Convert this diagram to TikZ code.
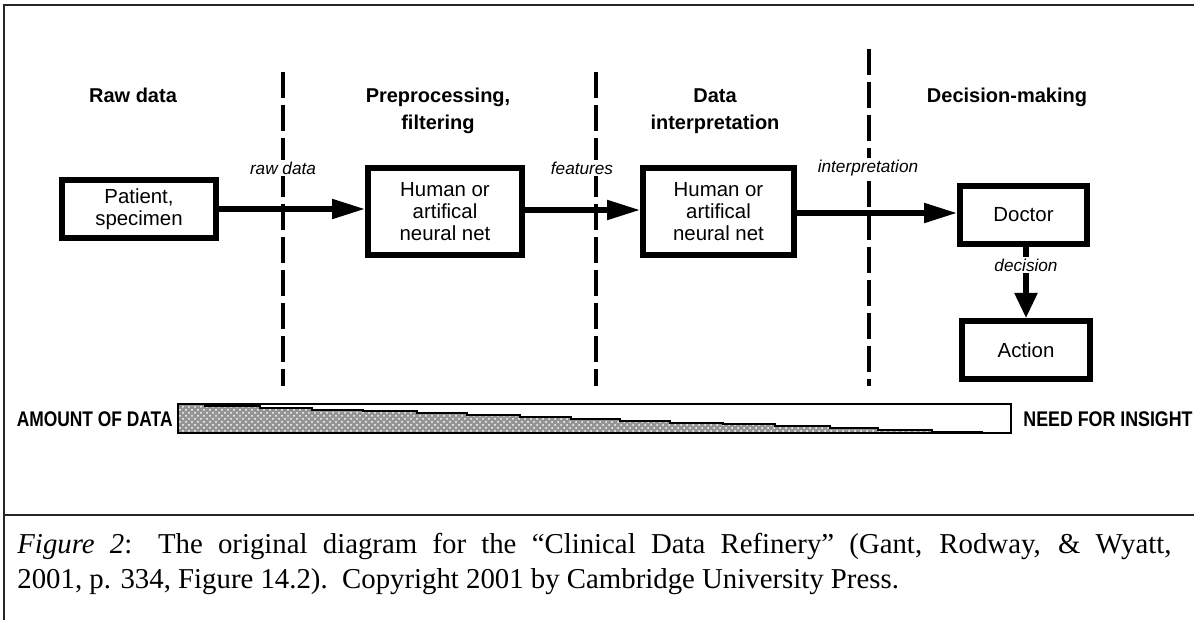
\documentclass[tikz,border=0pt]{standalone}
\usepackage{fontspec}
\setmainfont{Liberation Serif}
\newfontfamily\hv{Liberation Sans}
\usetikzlibrary{arrows.meta,patterns}

\tikzset{
  stagebox/.style={draw, line width=3pt, rectangle, inner sep=0pt, align=center,
                   font=\hv\fontsize{10.2pt}{11pt}\selectfont},
  stagehead/.style={font=\hv\bfseries\fontsize{10pt}{13.5pt}\selectfont, align=center, inner sep=0pt},
  flowlabel/.style={font=\hv\itshape\fontsize{8.6pt}{10pt}\selectfont, fill=white, inner sep=1pt},
  divider/.style={line width=1.8pt, dash pattern=on 13pt off 3.5pt},
  flow/.style={line width=2.6pt, -{Triangle[length=16.5pt,width=9.5pt]}},
  downflow/.style={line width=2.6pt, -{Triangle[length=12.5pt,width=11pt]}},
  barlabel/.style={font=\hv\bfseries\fontsize{10.6pt}{12pt}\selectfont, inner sep=0pt},
  caption/.style={font=\fontsize{14.4pt}{17pt}\selectfont, inner sep=0pt, anchor=base west},
  frame/.style={line width=1pt, black!85}
}

\begin{document}
\begin{tikzpicture}[x=0.5pt,y=-0.5pt]
\useasboundingbox (0,0) rectangle (1194,620);

% outer frame and caption separator
\draw[frame] (4,620) -- (4,5) -- (1194,5);
\draw[frame] (4,515) -- (1194,515);

% stage headings (base anchor = baseline of the last line)
\node[stagehead, anchor=base] (hraw) at (133,103) {Raw data};
\node[stagehead, anchor=base] (hpre) at (438,130) {Preprocessing,\\filtering};
\node[stagehead, anchor=base] (hint) at (715,130) {Data\\interpretation};
\node[stagehead, anchor=base] (hdec) at (1007,103) {Decision-making};

% stage dividers
\coordinate (d1t) at (283,72);  \coordinate (d1b) at (283,386);
\coordinate (d2t) at (596,72);  \coordinate (d2b) at (596,386);
\coordinate (d3t) at (869,49);  \coordinate (d3b) at (869,386);
\draw[divider] (d1t) -- (d1b);
\draw[divider] (d2t) -- (d2b);
\draw[divider] (d3t) -- (d3b);

% processing boxes
\node[stagebox, minimum width=77pt, minimum height=29pt] (patient) at (139,209) {Patient,\\specimen};
\node[stagebox, minimum width=77pt, minimum height=43.5pt] (prep) at (445,211.5) {Human or\\artifical\\neural net};
\node[stagebox, minimum width=75.5pt, minimum height=43.5pt] (interp) at (718.5,211.5) {Human or\\artifical\\neural net};
\node[stagebox, minimum width=63.5pt, minimum height=29pt] (doctor) at (1023.5,215) {Doctor};
\node[stagebox, minimum width=64pt, minimum height=29pt] (action) at (1026,350) {Action};

% flow arrows
\draw[flow] (patient.east) -- (patient.east -| prep.west);
\draw[flow] (prep.east |- 0,210) -- (interp.west |- 0,210);
\draw[flow] (interp.east |- 0,213) -- (doctor.west |- 0,213);
\draw[downflow] (doctor.south -| 1026,0) -- (action.north);

% flow labels
\node[flowlabel] (lraw) at (283,168) {raw data};
\node[flowlabel] (lfeat) at (582,168) {features};
\node[flowlabel] (lint) at (868,168) {interpretation};
\node[flowlabel] (ldec) at (1026,265) {decision};

% data / insight bar: stepped, screened fill that shrinks to the right
\def\stairs{(178,404) -- (205,404) -- (205,405.9) -- (260,405.9) -- (260,407.7)
  -- (312,407.7) -- (312,409.6) -- (363,409.6) -- (363,411.4) -- (417,411.4)
  -- (417,413.3) -- (467,413.3) -- (467,415.1) -- (520,415.1) -- (520,417)
  -- (571,417) -- (571,418.8) -- (620,418.8) -- (620,420.7) -- (670,420.7)
  -- (670,422.5) -- (723,422.5) -- (723,424.4) -- (775,424.4) -- (775,426.2)
  -- (830,426.2) -- (830,428.1) -- (878,428.1) -- (878,429.9) -- (932,429.9)
  -- (932,431.8) -- (983,431.8)}
\fill[black!42] (178,433) -- \stairs -- (983,433) -- cycle;
\fill[pattern=crosshatch dots, pattern color=white] (178,433) -- \stairs -- (983,433) -- cycle;
\draw[line width=1pt] \stairs;
\draw[line width=1.1pt] (178,404) rectangle (1011,433);
\node[barlabel, anchor=east] (amount) at (173,419) {\scalebox{0.82}[1]{AMOUNT OF DATA}};
\node[barlabel, anchor=west] (insight) at (1023,419) {\scalebox{0.84}[1]{NEED FOR INSIGHT}};

% caption: first line justified to the full measure
\node[caption] (cap1) at (17,553) {\makebox[577pt][s]{\textit{Figure 2}: The original diagram for the \textquotedblleft Clinical Data Refinery\textquotedblright\ (Gant, Rodway, \& Wyatt,}};
\node[caption] (cap2) at (17,588) {2001, p. 334, Figure 14.2).\ \ Copyright 2001 by Cambridge University Press.};
\end{tikzpicture}
\end{document}
